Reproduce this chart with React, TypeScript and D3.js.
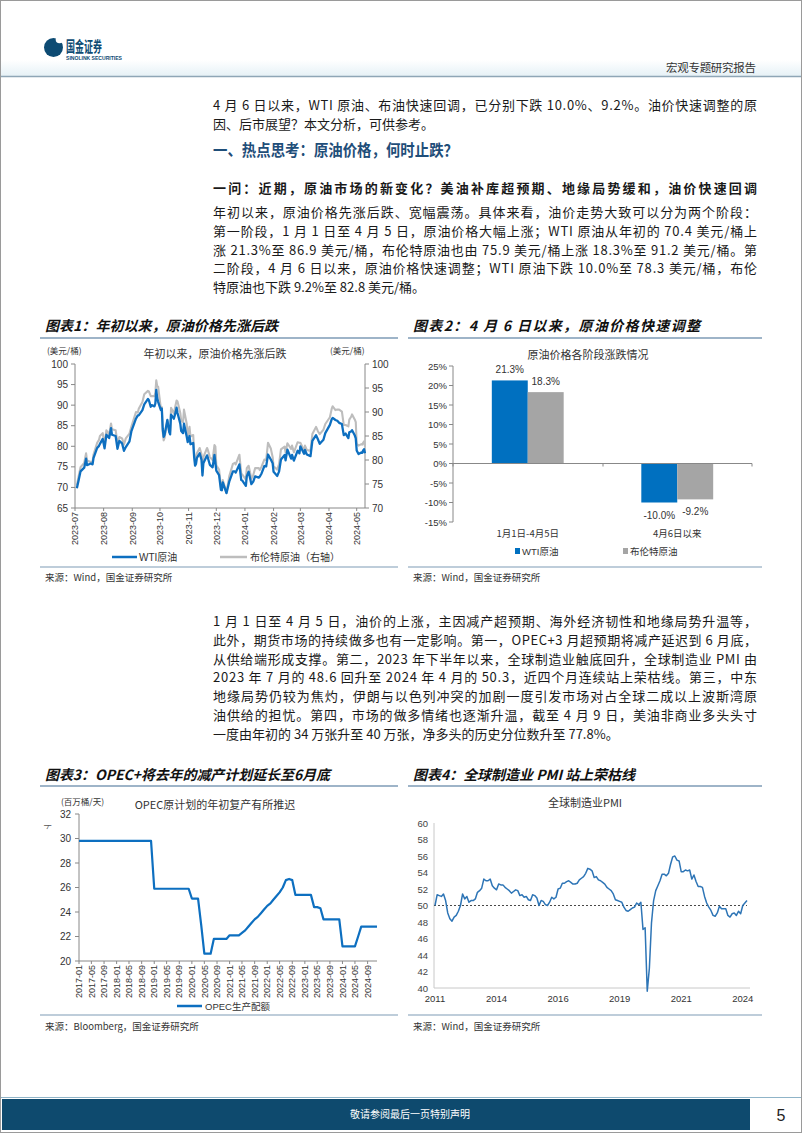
import React from "react";
import * as d3 from "d3";

const CJK = "'Noto Sans CJK SC', 'Noto Sans', sans-serif";
const NUM = "'Liberation Sans', Arial, 'Noto Sans CJK SC', sans-serif";

// ---------- Text content ----------
const introLines = [
  "4 月 6 日以来，WTI 原油、布油快速回调，已分别下跌 10.0%、9.2%。油价快速调整的原",
  "因、后市展望？本文分析，可供参考。",
];
const headingText = "一、热点思考：原油价格，何时止跌？";
const subHeadingText = "一问：近期，原油市场的新变化？美油补库超预期、地缘局势缓和，油价快速回调";
const para2Lines = [
  "年初以来，原油价格先涨后跌、宽幅震荡。具体来看，油价走势大致可以分为两个阶段：",
  "第一阶段，1 月 1 日至 4 月 5 日，原油价格大幅上涨；WTI 原油从年初的 70.4 美元/桶上",
  "涨 21.3%至 86.9 美元/桶，布伦特原油也由 75.9 美元/桶上涨 18.3%至 91.2 美元/桶。第",
  "二阶段，4 月 6 日以来，原油价格快速调整；WTI 原油下跌 10.0%至 78.3 美元/桶，布伦",
  "特原油也下跌 9.2%至 82.8 美元/桶。",
];
const para3Lines = [
  "1 月 1 日至 4 月 5 日，油价的上涨，主因减产超预期、海外经济韧性和地缘局势升温等，",
  "此外，期货市场的持续做多也有一定影响。第一，OPEC+3 月超预期将减产延迟到 6 月底，",
  "从供给端形成支撑。第二，2023 年下半年以来，全球制造业触底回升，全球制造业 PMI 由",
  "2023 年 7 月的 48.6 回升至 2024 年 4 月的 50.3，近四个月连续站上荣枯线。第三，中东",
  "地缘局势仍较为焦灼，伊朗与以色列冲突的加剧一度引发市场对占全球二成以上波斯湾原",
  "油供给的担忧。第四，市场的做多情绪也逐渐升温，截至 4 月 9 日，美油非商业多头头寸",
  "一度由年初的 34 万张升至 40 万张，净多头的历史分位数升至 77.8%。",
];

// ---------- Chart 1 data ----------
const oilDates = [
  "2023-07-03","2023-07-05","2023-07-07","2023-07-11","2023-07-13","2023-07-14","2023-07-18","2023-07-20","2023-07-21","2023-07-25","2023-07-27","2023-07-28","2023-07-31",
  "2023-08-02","2023-08-04","2023-08-07","2023-08-09","2023-08-10","2023-08-14","2023-08-16","2023-08-18","2023-08-21","2023-08-23","2023-08-25","2023-08-29","2023-08-31",
  "2023-09-05","2023-09-07","2023-09-08","2023-09-12","2023-09-14","2023-09-18","2023-09-19","2023-09-21","2023-09-22","2023-09-25","2023-09-26","2023-09-27","2023-09-28","2023-09-29",
  "2023-10-02","2023-10-03","2023-10-04","2023-10-05","2023-10-06","2023-10-09","2023-10-11","2023-10-12","2023-10-13","2023-10-16","2023-10-18","2023-10-19","2023-10-20","2023-10-23","2023-10-24","2023-10-26","2023-10-27","2023-10-30","2023-10-31",
  "2023-11-02","2023-11-03","2023-11-06","2023-11-07","2023-11-08","2023-11-09","2023-11-10","2023-11-13","2023-11-15","2023-11-16","2023-11-17","2023-11-21","2023-11-22","2023-11-24","2023-11-27","2023-11-29","2023-11-30",
  "2023-12-01","2023-12-04","2023-12-06","2023-12-07","2023-12-08","2023-12-12","2023-12-13","2023-12-15","2023-12-19","2023-12-21","2023-12-22","2023-12-26","2023-12-28","2023-12-29",
  "2024-01-02","2024-01-03","2024-01-05","2024-01-08","2024-01-10","2024-01-12","2024-01-16","2024-01-17","2024-01-19","2024-01-22","2024-01-24","2024-01-26","2024-01-29","2024-01-31",
  "2024-02-01","2024-02-05","2024-02-07","2024-02-09","2024-02-13","2024-02-14","2024-02-16","2024-02-20","2024-02-21","2024-02-23","2024-02-27","2024-02-29",
  "2024-03-01","2024-03-05","2024-03-06","2024-03-08","2024-03-12","2024-03-14","2024-03-18","2024-03-20","2024-03-22","2024-03-26","2024-03-28",
  "2024-04-02","2024-04-04","2024-04-05","2024-04-08","2024-04-10","2024-04-12","2024-04-15","2024-04-17","2024-04-19","2024-04-22","2024-04-23","2024-04-25","2024-04-26","2024-04-29","2024-04-30",
  "2024-05-01","2024-05-03","2024-05-06","2024-05-07","2024-05-08","2024-05-09","2024-05-10",
];
const wtiValues = [
  69.8,71.8,73.9,74.8,77.0,75.4,75.8,75.6,77.1,79.6,80.1,80.6,81.8,
  79.5,82.8,82.0,84.4,82.8,82.5,79.4,81.3,80.7,78.9,79.8,81.2,83.6,
  86.7,87.5,87.5,88.8,90.2,91.5,91.2,89.6,90.0,89.7,90.4,93.7,91.7,90.8,
  88.8,89.2,84.2,82.3,82.8,86.4,83.5,82.9,87.7,86.7,88.3,89.4,88.1,85.5,83.7,83.2,85.5,82.3,81.0,
  82.5,80.5,80.8,77.4,75.3,75.7,77.2,78.3,76.7,72.9,75.9,77.8,77.1,75.5,74.9,77.9,76.0,
  74.1,73.0,69.4,69.3,71.2,68.6,69.5,71.4,73.9,73.9,73.6,75.6,71.8,71.7,
  70.4,72.7,73.8,70.8,71.4,72.7,72.4,72.6,73.4,75.2,75.1,78.0,76.8,75.9,
  73.8,72.8,73.9,76.8,77.9,76.6,79.2,77.0,77.9,76.5,78.9,78.3,
  80.0,78.2,79.1,78.0,77.6,81.3,82.7,81.7,80.6,81.6,83.2,
  85.2,86.6,86.9,86.4,86.2,85.7,85.4,82.7,83.1,82.0,83.4,83.6,83.9,82.6,81.9,
  79.0,78.1,78.5,78.4,79.0,79.3,78.3,
];
const brentValues = [
  74.7,76.7,78.5,79.4,81.4,79.9,79.6,79.6,81.1,83.6,84.2,85.0,85.6,
  83.2,86.2,85.3,87.6,86.4,86.2,83.5,84.8,84.5,83.2,84.5,85.5,86.9,
  90.0,89.9,90.7,92.1,93.7,94.4,94.3,93.3,93.3,93.3,94.0,96.6,95.4,95.3,
  90.7,91.0,85.8,84.1,84.6,88.2,85.8,86.0,90.9,89.7,91.5,92.4,92.2,89.8,88.1,87.9,90.5,87.5,85.0,
  86.9,84.9,85.2,81.6,79.5,80.0,81.4,82.5,81.2,77.4,80.6,82.5,82.0,80.6,80.0,83.1,82.8,
  78.9,78.0,74.3,74.1,75.8,73.2,74.3,76.6,79.2,79.4,79.1,81.1,77.2,77.0,
  75.9,78.3,78.8,76.1,76.8,78.3,78.3,77.9,78.6,80.1,80.0,83.6,82.4,80.6,
  78.7,78.0,79.2,82.2,82.8,81.6,83.5,82.3,83.0,81.6,83.7,83.6,
  83.6,82.0,83.0,82.1,81.9,85.4,86.9,86.0,85.4,86.3,87.5,
  88.9,90.7,91.2,90.4,90.5,90.5,90.1,87.3,87.3,87.0,88.4,89.0,89.5,88.4,87.9,
  83.4,83.0,83.3,83.2,83.6,83.9,82.8,
];
const oilMonthTicks = ["2023-07","2023-08","2023-09","2023-10","2023-11","2023-12","2024-01","2024-02","2024-03","2024-04","2024-05"];
const oilLeftTicks = [65, 70, 75, 80, 85, 90, 95, 100];
const oilRightTicks = [70, 75, 80, 85, 90, 95, 100];

// ---------- Chart 2 data ----------
const phaseCategories = ["1月1日-4月5日", "4月6日以来"];
const phaseWti = [21.3, -10.0];
const phaseBrent = [18.3, -9.2];
const phaseLabelsWti = ["21.3%", "-10.0%"];
const phaseLabelsBrent = ["18.3%", "-9.2%"];
const phaseTicks = [25, 20, 15, 10, 5, 0, -5, -10, -15];

// ---------- Chart 3 data ----------
const opecStartMonth = "2017-01";
const opecQuota = [
  29.8,29.8,29.8,29.8,29.8,29.8,29.8,29.8,29.8,29.8,29.8,29.8,
  29.8,29.8,29.8,29.8,29.8,29.8,29.8,29.8,29.8,29.8,29.8,29.8,
  25.9,25.9,25.9,25.9,25.9,25.9,25.9,25.9,25.9,25.9,25.9,25.9,
  25.1,25.1,25.1,22.9,20.6,20.6,20.6,21.8,21.8,21.8,21.8,21.8,
  22.1,22.1,22.1,22.1,22.3,22.5,22.8,23.1,23.4,23.6,23.9,24.2,
  24.5,24.7,25.0,25.3,25.6,26.0,26.6,26.7,26.6,25.4,25.4,25.4,
  25.4,25.4,25.4,24.4,24.4,24.3,23.4,23.4,23.4,23.4,23.4,23.4,
  21.2,21.2,21.2,21.2,21.2,22.0,22.8,22.8,22.8,22.8,22.8,22.8,
];
const opecTickLabels = [
  "2017-01","2017-05","2017-09","2018-01","2018-05","2018-09","2019-01","2019-05","2019-09",
  "2020-01","2020-05","2020-09","2021-01","2021-05","2021-09","2022-01","2022-05","2022-09",
  "2023-01","2023-05","2023-09","2024-01","2024-05","2024-09",
];
const opecYTicks = [20, 22, 24, 26, 28, 30, 32];

// ---------- Chart 4 data ----------
const pmiValues = [
  50.0,
  51.3,51.2,51.1,51.4,50.6,49.1,48.4,48.1,48.6,48.8,49.3,50.0,
  51.4,50.8,51.1,50.4,50.6,50.6,50.8,51.6,51.8,52.1,53.2,53.0,
  53.0,53.2,52.4,52.1,51.9,52.6,52.5,52.5,52.2,52.0,51.8,51.5,
  51.7,51.9,51.8,51.2,51.3,51.0,51.1,50.7,50.6,51.3,51.2,50.9,
  50.0,50.6,50.5,50.1,50.0,50.4,51.0,50.8,51.0,52.0,52.1,52.7,
  52.7,52.9,53.0,52.8,52.6,52.6,52.7,53.1,53.3,53.5,53.9,54.5,
  54.4,54.2,53.4,53.5,53.1,53.0,52.8,52.6,52.2,52.0,51.8,51.4,
  50.7,50.6,50.5,50.4,49.8,49.4,49.3,49.5,49.7,49.8,50.3,50.1,
  50.4,47.1,47.3,39.6,42.4,47.9,50.6,51.8,52.4,53.0,53.8,53.8,
  53.6,53.9,55.0,55.9,56.0,55.5,55.4,54.1,54.1,54.3,54.2,54.3,
  53.2,53.7,52.9,52.3,52.3,52.2,51.1,50.3,49.8,49.4,48.8,48.7,
  49.1,49.9,49.6,49.6,49.6,48.8,48.6,49.0,49.1,48.8,49.3,49.0,
  50.0,50.3,50.6,
];
const pmiTickLabels = ["2011", "2014", "2016", "2019", "2021", "2024"];
const pmiTickInterval = 29;
const pmiYTicks = [40, 42, 44, 46, 48, 50, 52, 54, 56, 58, 60];
const pmiThreshold = 50;

const BLUE = "#0D6FC0";
const GRAY = "#BDBDBD";
const TITLE_LINE = "#7E9BB6";

function TextLine({ x, y, text, w, size = 13, weight = 400, fill = "#1a1a1a", adjust = "spacing", style = "normal" }: any) {
  return (
    <text x={x} y={y} fontSize={size} fontWeight={weight} fill={fill} fontFamily={CJK} fontStyle={style}
      {...(w ? { textLength: w, lengthAdjust: adjust } : {})}>
      {text}
    </text>
  );
}

function Chart1() {
  const parse = d3.timeParse("%Y-%m-%d");
  const x = d3.scaleTime().domain([parse("2023-07-01")!, parse("2024-05-10")!]).range([75, 365]);
  const yL = d3.scaleLinear().domain([65, 100]).range([508, 364]);
  const yR = d3.scaleLinear().domain([70, 100]).range([508, 364]);
  const dates = oilDates.map((d) => parse(d)!);
  const wti = d3.line<number>().x((_, i) => x(dates[i])).y((d) => yL(d))(wtiValues)!;
  const brent = d3.line<number>().x((_, i) => x(dates[i])).y((d) => yR(d))(brentValues)!;
  return (
    <g>
      <text x={215} y={358} fontSize={11} textAnchor="middle" fontFamily={CJK} fill="#333">年初以来，原油价格先涨后跌</text>
      <text x={47} y={354} fontSize={8.5} fontFamily={CJK} fill="#333">(美元/桶)</text>
      <text x={330} y={354} fontSize={8.5} fontFamily={CJK} fill="#333">(美元/桶)</text>
      <line x1={75} x2={75} y1={364} y2={508} stroke="#888" />
      <line x1={365} x2={365} y1={364} y2={508} stroke="#888" />
      <line x1={75} x2={365} y1={508} y2={508} stroke="#888" />
      {oilLeftTicks.map((t) => (
        <g key={"l" + t}>
          <line x1={71} x2={75} y1={yL(t)} y2={yL(t)} stroke="#888" />
          <text x={68} y={yL(t) + 3.5} fontSize={10} textAnchor="end" fontFamily={NUM} fill="#333">{t}</text>
        </g>
      ))}
      {oilRightTicks.map((t) => (
        <g key={"r" + t}>
          <line x1={365} x2={369} y1={yR(t)} y2={yR(t)} stroke="#888" />
          <text x={372} y={yR(t) + 3.5} fontSize={10} fontFamily={NUM} fill="#333">{t}</text>
        </g>
      ))}
      {oilMonthTicks.map((m) => {
        const xx = x(parse(m + "-01")!);
        return (
          <g key={m}>
            <line x1={xx} x2={xx} y1={508} y2={511} stroke="#888" />
            <text transform={`translate(${xx + 3.3},${512}) rotate(-90)`} fontSize={9} textAnchor="end" fontFamily={NUM} fill="#333">{m}</text>
          </g>
        );
      })}
      <path d={brent} fill="none" stroke={GRAY} strokeWidth={2.1} strokeLinejoin="round" />
      <path d={wti} fill="none" stroke={BLUE} strokeWidth={2.3} strokeLinejoin="round" />
      <line x1={112} x2={137} y1={557} y2={557} stroke={BLUE} strokeWidth={2.5} />
      <text x={139} y={561} fontSize={10} fontFamily={NUM} fill="#333">WTI原油</text>
      <line x1={220} x2={247} y1={557} y2={557} stroke={GRAY} strokeWidth={2.5} />
      <text x={250} y={561} fontSize={10} fontFamily={CJK} fill="#333">布伦特原油（右轴）</text>
    </g>
  );
}

function Chart2() {
  const x0 = d3.scaleBand().domain(phaseCategories).range([453, 752]).paddingInner(0).paddingOuter(0);
  const x1 = d3.scaleBand().domain(["wti", "brent"]).range([0, x0.bandwidth()]).paddingInner(0).paddingOuter(1.08);
  const y = d3.scaleLinear().domain([-15, 25]).range([522, 366]);
  const bw = x1.bandwidth();
  return (
    <g>
      <text x={588} y={359} fontSize={11} textAnchor="middle" fontFamily={CJK} fill="#333">原油价格各阶段涨跌情况</text>
      {phaseCategories.map((c, i) => {
        const bx = x0(c)!;
        const vals = [phaseWti[i], phaseBrent[i]];
        const labs = [phaseLabelsWti[i], phaseLabelsBrent[i]];
        return (
          <g key={c}>
            {(["wti", "brent"] as const).map((k, j) => {
              const v = vals[j];
              const xx = bx + x1(k)!;
              const top = y(Math.max(0, v));
              const h = Math.abs(y(v) - y(0));
              const ly = v >= 0 ? y(v) - 7 : y(v) + 16;
              return (
                <g key={k}>
                  <rect x={xx} y={top} width={bw} height={h} fill={j === 0 ? "#0070C0" : "#A5A5A5"} />
                  <text x={xx + bw / 2} y={ly} fontSize={10} textAnchor="middle" fontFamily={NUM} fill="#333">{labs[j]}</text>
                </g>
              );
            })}
            <text x={bx + x0.bandwidth() / 2} y={537} fontSize={9.5} textAnchor="middle" fontFamily={CJK} fill="#333">{c}</text>
          </g>
        );
      })}
      <line x1={453} x2={453} y1={366} y2={522} stroke="#888" />
      {phaseTicks.map((t) => (
        <g key={t}>
          <line x1={449} x2={453} y1={y(t)} y2={y(t)} stroke="#888" />
          <text x={447} y={y(t) + 3.5} fontSize={9.5} textAnchor="end" fontFamily={NUM} fill="#333">{t}%</text>
        </g>
      ))}
      <line x1={453} x2={752} y1={y(0)} y2={y(0)} stroke="#888" />
      {[453, 603, 752].map((t) => (
        <line key={t} x1={t} x2={t} y1={y(0)} y2={y(0) + 3} stroke="#888" />
      ))}
      <rect x={515} y={548} width={5} height={6} fill="#0070C0" />
      <text x={522} y={555} fontSize={9.5} fontFamily={NUM} fill="#333">WTI原油</text>
      <rect x={623} y={548} width={5} height={6} fill="#A5A5A5" />
      <text x={630} y={555} fontSize={9.5} fontFamily={CJK} fill="#333">布伦特原油</text>
    </g>
  );
}

function Chart3() {
  const parse = d3.timeParse("%Y-%m");
  const start = parse(opecStartMonth)!;
  const months = opecQuota.map((_, i) => d3.timeMonth.offset(start, i));
  const x = d3.scaleTime().domain([start, months[months.length - 1]]).range([79, 377]);
  const y = d3.scaleLinear().domain([20, 32]).range([961, 814]);
  const line = d3.line<number>().x((_, i) => x(months[i])).y((d) => y(d))(opecQuota)!;
  return (
    <g>
      <text x={215} y={809} fontSize={11} textAnchor="middle" fontFamily={CJK} fill="#333">OPEC原计划的年初复产有所推迟</text>
      <text x={61} y={805} fontSize={8.5} fontFamily={CJK} fill="#333">(百万桶/天)</text>
      <text transform="translate(45,822) rotate(90)" fontSize={8} fontFamily={CJK} fill="#555">卜</text>
      <line x1={79} x2={79} y1={814} y2={961} stroke="#888" />
      <line x1={79} x2={377} y1={961} y2={961} stroke="#888" />
      {opecYTicks.map((t) => (
        <g key={t}>
          <line x1={75} x2={79} y1={y(t)} y2={y(t)} stroke="#888" />
          <text x={71} y={y(t) + 3.5} fontSize={10} textAnchor="end" fontFamily={NUM} fill="#333">{t}</text>
        </g>
      ))}
      {opecTickLabels.map((m) => {
        const xx = x(parse(m)!);
        return (
          <g key={m}>
            <line x1={xx} x2={xx} y1={961} y2={964} stroke="#888" />
            <text transform={`translate(${xx + 3.2},${965}) rotate(-90)`} fontSize={9} textAnchor="end" fontFamily={NUM} fill="#333">{m}</text>
          </g>
        );
      })}
      <path d={line} fill="none" stroke={BLUE} strokeWidth={2.2} strokeLinejoin="round" />
      <line x1={177} x2={202} y1={1006} y2={1006} stroke={BLUE} strokeWidth={2.5} />
      <text x={205} y={1010} fontSize={9.5} fontFamily={NUM} fill="#333">OPEC生产配额</text>
    </g>
  );
}

function Chart4() {
  const x = d3.scaleLinear().domain([0, pmiValues.length - 1]).range([435, 747]);
  const y = d3.scaleLinear().domain([40, 60]).range([988, 823]);
  const line = d3.line<number>().x((_, i) => x(i)).y((d) => y(d))(pmiValues)!;
  return (
    <g>
      <text x={585} y={807} fontSize={11} textAnchor="middle" fontFamily={CJK} fill="#333">全球制造业PMI</text>
      <line x1={434} x2={434} y1={823} y2={988} stroke="#C8C8C8" />
      <line x1={434} x2={750} y1={988} y2={988} stroke="#C8C8C8" />
      {pmiYTicks.map((t) => (
        <text key={t} x={428} y={y(t) + 3.5} fontSize={9.5} textAnchor="end" fontFamily={NUM} fill="#444">{t}</text>
      ))}
      {pmiTickLabels.map((l, i) => (
        <text key={l} x={x(i * pmiTickInterval)} y={1002} fontSize={9.5} textAnchor="middle" fontFamily={NUM} fill="#333">{l}</text>
      ))}
      <line x1={434} x2={747} y1={y(pmiThreshold)} y2={y(pmiThreshold)} stroke="#333" strokeWidth={0.9} strokeDasharray="2,2" />
      <path d={line} fill="none" stroke="#2E75B6" strokeWidth={1.5} strokeLinejoin="round" />
    </g>
  );
}

export default function App() {
  return (
    <div style={{ position: "absolute", left: 0, top: 0 }}>
      <svg width={802} height={1133} viewBox="0 0 802 1133" style={{ display: "block", background: "#fff" }}>
        <defs>
          <linearGradient id="hdr" x1="0" x2="0" y1="0" y2="1">
            <stop offset="0" stopColor="#ffffff" />
            <stop offset="1" stopColor="#E6F1F6" />
          </linearGradient>
        </defs>
        <rect x={0.5} y={0.5} width={801} height={1132} fill="none" stroke="#9a9a9a" />
        {/* header */}
        <rect x={1} y={60} width={800} height={16} fill="url(#hdr)" />
        <line x1={1} x2={801} y1={76.5} y2={76.5} stroke="#8FA6B6" strokeWidth={1.5} />
        <circle cx={53.5} cy={47.5} r={9.5} fill="#0D4B73" />
        <circle cx={59.5} cy={39.5} r={3.8} fill="#fff" />
        <text x={66} y={52} fontSize={15} fontWeight={700} fill="#0D4B73" fontFamily={CJK} textLength={36} lengthAdjust="spacingAndGlyphs">国金证券</text>
        <text x={66} y={60} fontSize={5.8} fontWeight={700} fill="#0D4B73" fontFamily={NUM} textLength={56} lengthAdjust="spacingAndGlyphs">SINOLINK SECURITIES</text>
        <text x={666} y={72} fontSize={11.5} fill="#333" fontFamily={CJK} textLength={90}>宏观专题研究报告</text>

        {/* body text */}
        <TextLine x={213} y={110} text={introLines[0]} w={544} />
        <TextLine x={213} y={129} text={introLines[1]} />
        <TextLine x={213} y={156} text={headingText} w={245} size={16} weight={700} fill="#1F4E79" adjust="spacingAndGlyphs" />
        <TextLine x={213} y={193} text={subHeadingText} w={544} size={13} weight={700} />
        {para2Lines.map((l, i) => (
          <TextLine key={i} x={213} y={217 + i * 18.8} text={l} w={i < para2Lines.length - 1 ? 544 : undefined} />
        ))}

        {/* chart titles row 1 */}
        <TextLine x={45} y={331} text="图表1：年初以来，原油价格先涨后跌" size={14} weight={700} style="italic" fill="#111" w={233} />
        <TextLine x={413} y={331} text="图表2：4 月 6 日以来，原油价格快速调整" size={14} weight={700} style="italic" fill="#111" w={287} />
        <line x1={40} x2={398} y1={338} y2={338} stroke={TITLE_LINE} strokeWidth={1.5} />
        <line x1={408} x2={762} y1={338} y2={338} stroke={TITLE_LINE} strokeWidth={1.5} />
        <Chart1 />
        <Chart2 />
        <line x1={40} x2={398} y1={567} y2={567} stroke={TITLE_LINE} strokeWidth={1.2} />
        <line x1={408} x2={762} y1={567} y2={567} stroke={TITLE_LINE} strokeWidth={1.2} />
        <text x={45} y={581} fontSize={9.5} fontFamily={CJK} fill="#333">来源：Wind，国金证券研究所</text>
        <text x={413} y={581} fontSize={9.5} fontFamily={CJK} fill="#333">来源：Wind，国金证券研究所</text>

        {para3Lines.map((l, i) => (
          <TextLine key={i} x={213} y={626 + i * 18.8} text={l} w={i < para3Lines.length - 1 ? 544 : undefined} />
        ))}

        {/* chart titles row 2 */}
        <TextLine x={45} y={780} text="图表3：OPEC+将去年的减产计划延长至6月底" size={14} weight={700} style="italic" fill="#111" w={285} />
        <TextLine x={413} y={780} text="图表4：全球制造业 PMI 站上荣枯线" size={14} weight={700} style="italic" fill="#111" w={222} />
        <line x1={40} x2={398} y1={786} y2={786} stroke={TITLE_LINE} strokeWidth={1.5} />
        <line x1={408} x2={762} y1={786} y2={786} stroke={TITLE_LINE} strokeWidth={1.5} />
        <Chart3 />
        <Chart4 />
        <line x1={40} x2={398} y1={1015} y2={1015} stroke={TITLE_LINE} strokeWidth={1.2} />
        <line x1={408} x2={762} y1={1015} y2={1015} stroke={TITLE_LINE} strokeWidth={1.2} />
        <text x={45} y={1030} fontSize={9.5} fontFamily={CJK} fill="#333">来源：Bloomberg，国金证券研究所</text>
        <text x={413} y={1030} fontSize={9.5} fontFamily={CJK} fill="#333">来源：Wind，国金证券研究所</text>

        {/* footer */}
        <line x1={1} x2={801} y1={1097.5} y2={1097.5} stroke="#8FB4C8" strokeWidth={1} />
        <rect x={2} y={1099} width={748} height={31} fill="#0E4A6E" />
        <text x={410} y={1118} fontSize={10} textAnchor="middle" fill="#fff" fontFamily={CJK}>敬请参阅最后一页特别声明</text>
        <text x={781} y={1121} fontSize={16} textAnchor="middle" fill="#222" fontFamily={NUM}>5</text>
      </svg>
    </div>
  );
}
